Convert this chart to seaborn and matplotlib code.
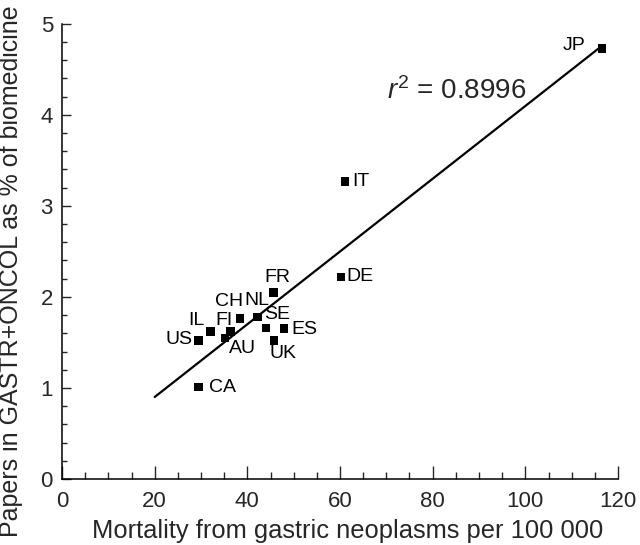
import numpy as np
import pandas as pd
import matplotlib
matplotlib.use("Agg")
import matplotlib.pyplot as plt
import seaborn as sns

countries = ["JP", "IT", "DE", "FR", "CH", "NL", "SE", "IL", "FI", "AU", "US", "ES", "UK", "CA"]
mortality = [116.5, 61.1, 60.2, 45.7, 38.4, 42.2, 44.0, 32.0, 36.4, 35.2, 29.5, 47.9, 45.8, 29.5]
papers_pct = [4.73, 3.27, 2.22, 2.05, 1.76, 1.78, 1.66, 1.62, 1.62, 1.55, 1.52, 1.65, 1.52, 1.01]
r2_text = "0.8996"
fit_start = 20

# label offsets in pixels (dx, dy; dy positive = down)
label_offsets = {
    "JP": (-27.7, -1.7), "IT": (15.8, 0.5), "DE": (19.3, 0.0), "FR": (3.5, -14.5),
    "CH": (-10.7, -16.5), "NL": (-0.2, -15.8), "SE": (11.5, -12.3), "IL": (-13.7, -9.8),
    "FI": (-6.8, -9.8), "AU": (17.5, 11.5), "US": (-20.0, 0.0), "ES": (20.0, 1.7),
    "UK": (9.0, 13.5), "CA": (24.3, 0.8),
}

sns.set_style("ticks")
plt.rcParams["font.family"] = ["Liberation Sans", "DejaVu Sans"]
plt.rcParams["mathtext.fontset"] = "custom"
plt.rcParams["mathtext.rm"] = "Liberation Sans"
plt.rcParams["mathtext.it"] = "Liberation Sans:italic"

df = pd.DataFrame({"country": countries, "mortality": mortality, "papers": papers_pct})

fig = plt.figure(figsize=(6.4, 5.45), dpi=100)
ax = fig.add_axes([62 / 640, 1 - 479 / 545, (618 - 62) / 640, (479 - 23.7) / 545])

slope, intercept = np.polyfit(df["mortality"], df["papers"], 1)
fx = np.array([fit_start, max(mortality)])
fit_df = pd.DataFrame({"x": fx, "y": slope * fx + intercept})
sns.lineplot(data=fit_df, x="x", y="y", ax=ax, color="black", linewidth=1.6)

sns.scatterplot(data=df, x="mortality", y="papers", ax=ax, marker="s", color="black",
                s=38, edgecolor="none", zorder=3)

px2pt = 0.72
for c, xv, yv in zip(countries, mortality, papers_pct):
    dx, dy = label_offsets[c]
    ax.annotate(c, (xv, yv), xytext=(dx * px2pt, -dy * px2pt + 0.5), textcoords="offset points",
                ha="center", va="center", fontsize=14, color="black")

ax.text(70.1, 4.17, r"$r^2$ = " + r2_text, fontsize=20, ha="left", va="baseline")

ax.set_xlim(0, 120)
ax.set_ylim(0, 5)
ax.set_xticks(np.arange(0, 121, 20))
ax.set_xticks(np.arange(0, 121, 5), minor=True)
ax.set_yticks(np.arange(0, 6, 1))
ax.set_yticks(np.arange(0, 5.01, 0.2), minor=True)
ax.tick_params(axis="x", which="major", direction="in", length=9.5, width=1, labelsize=16, pad=8.5)
ax.tick_params(axis="x", which="minor", direction="in", length=5, width=1)
ax.tick_params(axis="y", which="major", direction="in", length=6.5, width=1, labelsize=16, pad=6.5)
ax.tick_params(axis="y", which="minor", direction="in", length=3.5, width=1)
for s in ["left", "bottom"]:
    ax.spines[s].set_linewidth(1.1)
    ax.spines[s].set_color("black")
sns.despine(ax=ax)

ax.set_xlabel("Mortality from gastric neoplasms per 100 000", fontsize=18.4, va="center")
ax.xaxis.set_label_coords(0.514, -0.114)
ax.set_ylabel("Papers in GASTR+ONCOL as % of biomedicine", fontsize=18.0, va="center")
ax.yaxis.set_label_coords((11 - 62) / 556, (479 - 271) / 455.3)

fig.savefig("out.png", dpi=100)
